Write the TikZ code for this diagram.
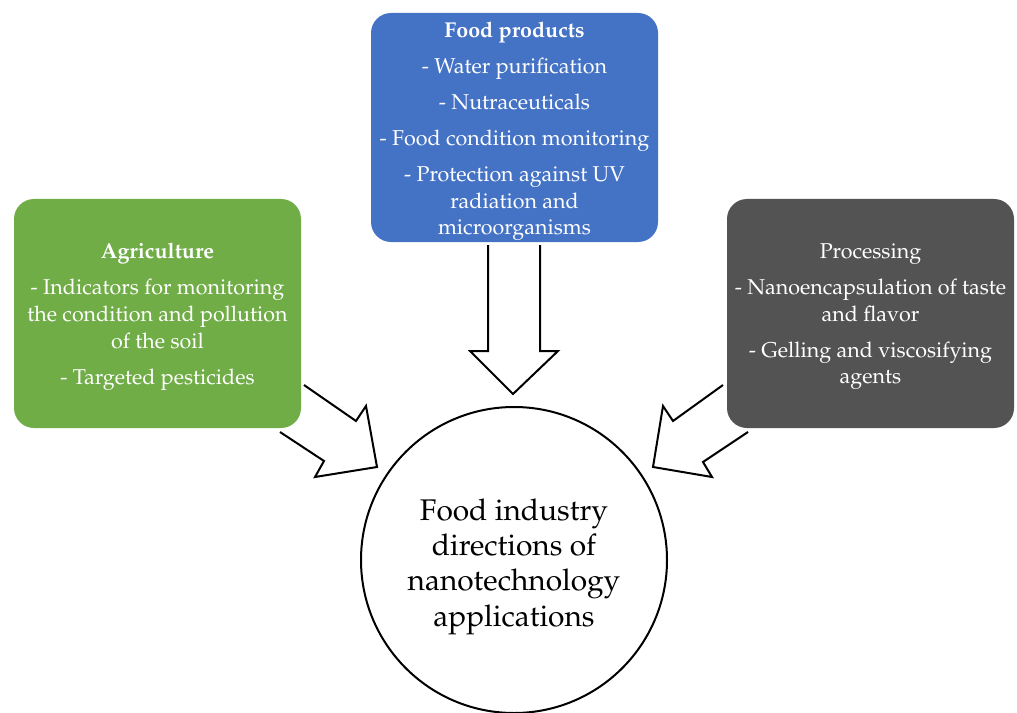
\documentclass[tikz,border=0pt]{standalone}
\usepackage[T1]{fontenc}
\usepackage{mathpazo}
\definecolor{fpblue}{HTML}{4472C4}
\definecolor{aggreen}{HTML}{70AD47}
\definecolor{prgray}{HTML}{535353}
\begin{document}
\begin{tikzpicture}[x=0.75pt,y=-0.75pt,
  box/.style={rounded corners=15pt, minimum width=215.25pt, minimum height=171.75pt, inner sep=0pt},
  boxtext/.style={text=white, align=center, inner sep=0pt, font=\fontsize{16.1}{20}\selectfont},
  blockarrow/.style={draw=black, line width=1.5pt, line join=miter}]
\useasboundingbox (0,0) rectangle (1017,713);
\node[box, fill=fpblue] (food) at (514.5,127.5) {};
\node[boxtext] (foodtext) at ([yshift=-3pt]food.center) {\textbf{Food products}\\[7pt]
  - Water purification\\[7pt]
  - Nutraceuticals\\[7pt]
  - Food condition monitoring\\[7pt]
  - Protection against UV\\ radiation and\\ microorganisms};
\node[box, fill=aggreen] (agri) at (157.5,313.5) {};
\node[boxtext] (agritext) at ([yshift=-2.5pt]agri.center) {\textbf{Agriculture}\\[7pt]
  - Indicators for monitoring\\ the condition and pollution\\ of the soil\\[7pt]
  - Targeted pesticides};
\node[box, fill=prgray] (proc) at (870.5,313.5) {};
\node[boxtext] (proctext) at ([yshift=-2.5pt]proc.center) {Processing\\[7pt]
  - Nanoencapsulation of taste\\ and flavor\\[7pt]
  - Gelling and viscosifying\\ agents};
\node[circle, draw=black, line width=1.5pt, minimum size=229.5pt, inner sep=0pt] (center) at (514,560) {};
\node[align=center, inner sep=0pt, font=\fontsize{22.4}{26.6}\selectfont] (centertext)
  at ([yshift=-5pt]center.center)
  {Food industry\\ directions of\\ nanotechnology\\ applications};
% block arrows
\draw[blockarrow] (488,245) -- (488,351) -- (470,351) -- (513,394) -- (558,351) -- (540,351) -- (540,245);
\draw[blockarrow] (304,385) -- (356,421) -- (366,406) -- (377,467) -- (315,477) -- (324,461) -- (280,432);
\draw[blockarrow] (723,385) -- (673,421) -- (663,406) -- (653,467) -- (712,477) -- (703,462) -- (748,432);
\end{tikzpicture}
\end{document}
